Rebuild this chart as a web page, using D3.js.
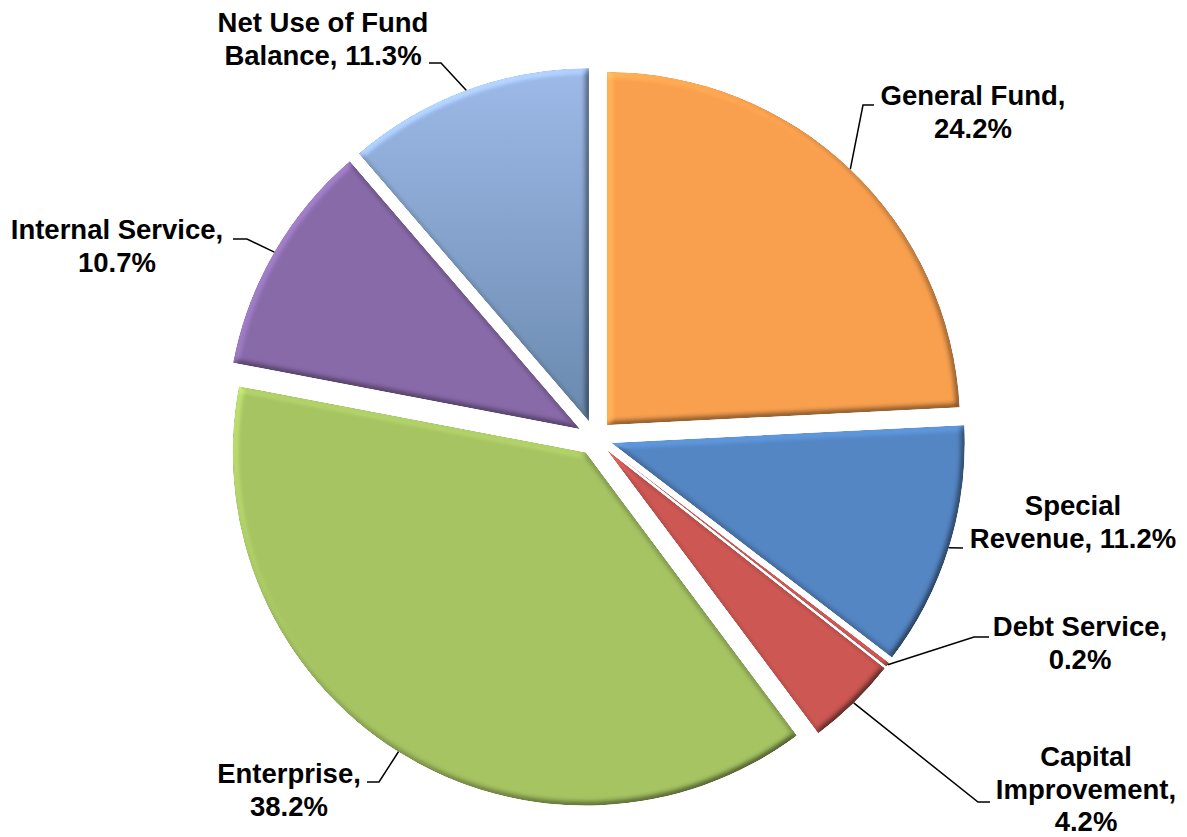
<!DOCTYPE html>
<html>
<head>
<meta charset="utf-8">
<script src="https://cdn.jsdelivr.net/npm/d3@7"></script>
<style>
  html, body { margin: 0; padding: 0; background: #fff; }
  svg { display: block; }
  .lbl { font-family: "Liberation Sans", Arial, sans-serif; font-weight: bold; font-size: 27.5px; fill: #000; }
</style>
</head>
<body>
<svg id="chart" width="1187" height="837"></svg>
<script>
// Fund shares, clockwise from 12 o'clock
const categories = ["General Fund", "Special Revenue", "Debt Service", "Capital Improvement",
                    "Enterprise", "Internal Service", "Net Use of Fund Balance"];
const shares = [24.2, 11.2, 0.2, 4.2, 38.2, 10.7, 11.3];

// Slice fills
const palette = ["#F9A04E", "#5486C4", "#CD5753", "#CD5753", "#A6C462", "#886AA9", "url(#netUseGrad)"];

// Label placement: text centre, first baseline, words per line, leader elbow and end
const labelLayout = [
  { x: 973,  y: 105, lines: [2, 1],    knee: [863, 105], end: [874, 105] },
  { x: 1073, y: 515, lines: [1, 2],    knee: [963, 548], end: [963, 548] },
  { x: 1080, y: 636, lines: [2, 1],    knee: [974, 637], end: [989, 637] },
  { x: 1086, y: 766, lines: [1, 1, 1], knee: [978, 802], end: [990, 802] },
  { x: 289,  y: 783, lines: [1, 1],    knee: [379, 782], end: [367, 782] },
  { x: 117,  y: 239, lines: [2, 1],    knee: [247, 239], end: [233, 239] },
  { x: 323,  y: 32,  lines: [4, 2],    knee: [441, 63],  end: [429, 63] }
];

const width = 1187, height = 837;
const cx = 595, cy = 437.7;     // pie centre
const radius = 353;
const explode = 17.5;           // outward offset of every slice
const lineGap = 32.5;

const svg = d3.select("#chart");
svg.append("rect").attr("width", width).attr("height", height).attr("fill", "#fff");

const defs = svg.append("defs");

// vertical shading for the fund-balance slice
const grad = defs.append("linearGradient")
  .attr("id", "netUseGrad").attr("x1", 0).attr("y1", 0).attr("x2", 0).attr("y2", 1);
grad.append("stop").attr("offset", "0%").attr("stop-color", "#9DBAE8");
grad.append("stop").attr("offset", "100%").attr("stop-color", "#6A89AE");

// soft bevel lit from the upper left
const bevel = defs.append("filter").attr("id", "bevel")
  .attr("x", "-5%").attr("y", "-5%").attr("width", "110%").attr("height", "110%")
  .attr("color-interpolation-filters", "sRGB");
bevel.append("feGaussianBlur").attr("in", "SourceAlpha").attr("stdDeviation", 3).attr("result", "blur");
bevel.append("feDiffuseLighting").attr("in", "blur").attr("surfaceScale", 4)
  .attr("diffuseConstant", 1).attr("lighting-color", "#fff").attr("result", "light")
  .append("feDistantLight").attr("azimuth", 225).attr("elevation", 45);
bevel.append("feComposite").attr("in", "SourceGraphic").attr("in2", "light")
  .attr("operator", "arithmetic").attr("k1", 0.7).attr("k2", 0.505).attr("k3", 0).attr("k4", 0)
  .attr("result", "lit");
bevel.append("feComposite").attr("in", "lit").attr("in2", "SourceAlpha").attr("operator", "in");

const color = d3.scaleOrdinal().domain(categories).range(palette);

const data = categories.map((c, i) => ({ name: c, value: shares[i], layout: labelLayout[i] }));

const pie = d3.pie().sort(null).value(d => d.value).startAngle(0).endAngle(2 * Math.PI);
const arcs = pie(data);
const arc = d3.arc().innerRadius(0).outerRadius(radius);

const mid = a => (a.startAngle + a.endAngle) / 2;
const dir = a => [Math.sin(mid(a)), -Math.cos(mid(a))];

const slices = svg.append("g").attr("transform", `translate(${cx},${cy})`);
slices.selectAll("path")
  .data(arcs)
  .join("path")
  .attr("transform", a => {
    const [ux, uy] = dir(a);
    return `translate(${ux * explode},${uy * explode})`;
  })
  .attr("d", arc)
  .attr("fill", a => color(a.data.name))
  .attr("filter", "url(#bevel)");

// leader lines from the middle of each slice's rim
const leaders = svg.append("g").attr("fill", "none").attr("stroke", "#000").attr("stroke-width", 1.5);
arcs.forEach(a => {
  const [ux, uy] = dir(a);
  const rim = [cx + ux * (explode + radius), cy + uy * (explode + radius)];
  const L = a.data.layout;
  leaders.append("path").attr("d", d3.line()([rim, L.knee, L.end]));
});

// labels
const labels = svg.append("g");
arcs.forEach(a => {
  const L = a.data.layout;
  const words = `${a.data.name}, ${a.data.value.toFixed(1)}%`.split(" ");
  const t = labels.append("text").attr("class", "lbl").attr("text-anchor", "middle");
  let k = 0;
  L.lines.forEach((n, i) => {
    t.append("tspan").attr("x", L.x).attr("y", L.y + i * lineGap).text(words.slice(k, k + n).join(" "));
    k += n;
  });
});
</script>
</body>
</html>
